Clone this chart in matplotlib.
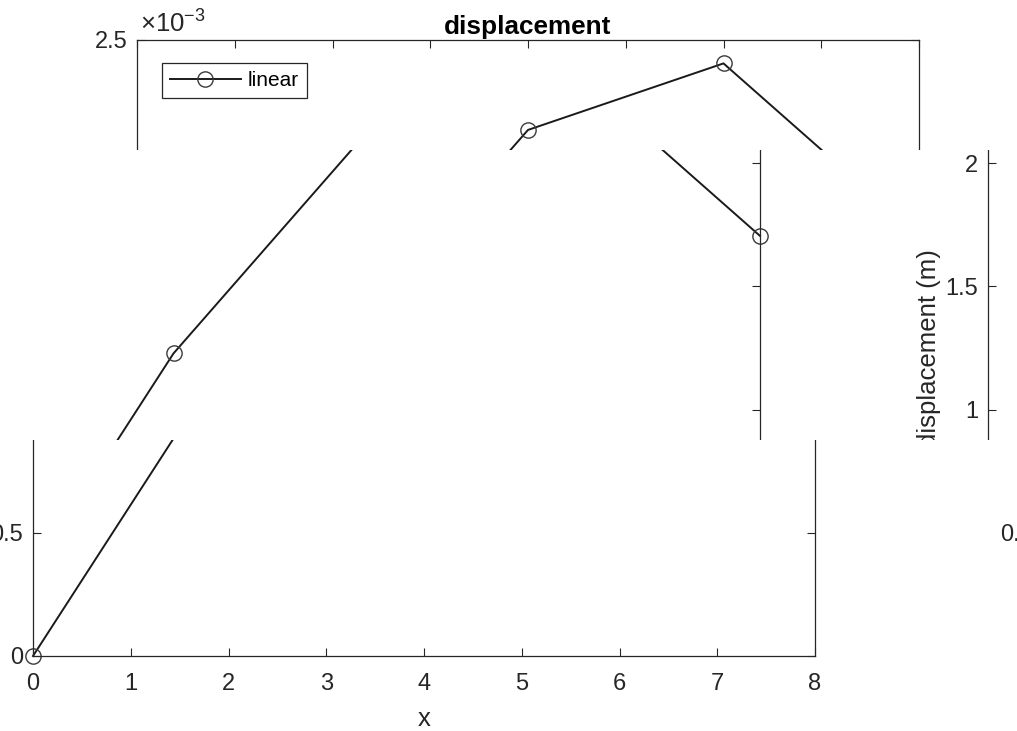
import matplotlib
matplotlib.use('Agg')
import matplotlib.pyplot as plt
from matplotlib.transforms import Bbox, TransformedBbox

plt.rcParams['font.family'] = ['Liberation Sans', 'DejaVu Sans']
plt.rcParams['mathtext.fontset'] = 'custom'
plt.rcParams['mathtext.rm'] = 'Liberation Sans'
plt.rcParams['mathtext.it'] = 'Liberation Sans:italic'

# data
x_pos = [0, 2, 4, 6, 8]
disp = [0.0, 1.228e-3, 2.135e-3, 2.405e-3, 1.705e-3]
x_ticks = [0, 1, 2, 3, 4, 5, 6, 7, 8]
y_ticks = [0, 0.5e-3, 1.0e-3, 1.5e-3, 2.0e-3, 2.5e-3]
y_tick_labels = ['0', '0.5', '1', '1.5', '2', '2.5']

W, H = 1017, 731
AX_L, AX_T, AX_R, AX_B = 137, 40, 919, 656   # axes box in pixels

# the reference capture is garbled: horizontal bands of the same figure,
# each shifted sideways and wrapped around (top px, bottom px, shift px)
pieces = [(0, 150, 0),
          (150, 440, -159), (150, 440, 851),
          (440, 731, -104), (452, 731, 906)]

fig = plt.figure(figsize=(W / 100, H / 100), dpi=100)
dark = '#262626'


def draw_copy(dx, clip):
    ax = fig.add_axes([(AX_L + dx) / W, (H - AX_B) / H,
                       (AX_R - AX_L) / W, (AX_B - AX_T) / H])
    ax.patch.set_visible(False)
    ax.plot(x_pos, disp, color='#1a1a1a', lw=1.4, marker='o', ms=11,
            mfc='none', mec='#3a3a3a', mew=1.0, label='linear', clip_on=False)
    ax.set_xlim(0, 8)
    ax.set_ylim(0, 2.5e-3)
    ax.set_xticks(x_ticks)
    ax.set_yticks(y_ticks, y_tick_labels)
    ax.tick_params(direction='in', length=6, width=0.8, color=dark,
                   labelsize=17, labelcolor=dark, top=True, right=True)
    ax.tick_params(axis='x', pad=12)
    ax.tick_params(axis='y', pad=7)
    for s in ax.spines.values():
        s.set_color(dark)
        s.set_linewidth(0.9)
    ax.set_title('displacement', fontsize=18.8, fontweight='bold', pad=4.5)
    ax.set_xlabel('x', fontsize=18.5, labelpad=9, color=dark)
    ax.set_ylabel('displacement (m)', fontsize=18.5, labelpad=3, color=dark)
    ax.annotate(r'$\mathregular{\times10^{-3}}$', xy=(0, 1), xycoords='axes fraction',
                xytext=(2, 5), textcoords='offset points', fontsize=18.5, color=dark)
    leg = ax.legend(loc='upper left', bbox_to_anchor=(0.032, 0.9627), borderaxespad=0,
                    fontsize=15, fancybox=False, edgecolor=dark, framealpha=1,
                    handlelength=3.4, handletextpad=0.35, borderpad=0.38)
    leg.get_frame().set_linewidth(0.9)
    ax.xaxis.get_major_ticks()
    ax.yaxis.get_major_ticks()
    for a in ax.findobj():
        if a is ax:
            continue
        a.set_clip_box(clip)
        a.set_clip_on(True)


for top, bot, dx in pieces:
    clip = TransformedBbox(Bbox.from_extents(0, (H - bot) / H, 1, (H - top) / H),
                           fig.transFigure)
    draw_copy(dx, clip)

fig.savefig('out.png', dpi=100)
